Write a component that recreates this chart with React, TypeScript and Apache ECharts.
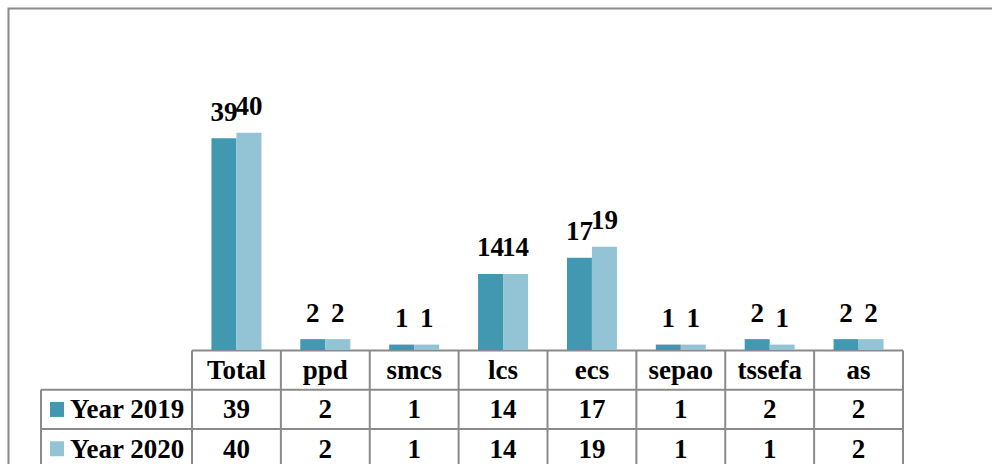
import React, { useEffect, useRef } from "react";
import * as echarts from "echarts";

const categories = ["Total", "ppd", "smcs", "lcs", "ecs", "sepao", "tssefa", "as"];
const seriesNames = ["Year 2019", "Year 2020"];
const values2019 = [39, 2, 1, 14, 17, 1, 2, 2];
const values2020 = [40, 2, 1, 14, 19, 1, 1, 2];

const COLORS = ["#4298B0", "#93C4D5"];
const FAMILY = "Liberation Serif";
const FS = 27;
const FONT = "bold 27px 'Liberation Serif', serif";
const LINE = "#8a8a8a";

export default function App() {
  const ref = useRef<HTMLDivElement>(null);
  useEffect(() => {
    document.body.style.margin = "0";
    if (!ref.current) return;
    const chart = echarts.init(ref.current, null, { renderer: "svg" });

    const W = 992;
    const gridLeft = 192;
    const gridRight = 89;
    const baseY = 350;
    const gridTop = 78.5;
    const gridW = W - gridLeft - gridRight;
    const n = categories.length;
    const colW = gridW / n;
    const rowH = 39.3;
    const legendLeft = 41;
    const rows = [baseY + 0.5, baseY + 0.5 + rowH, baseY + 0.5 + 2 * rowH, baseY + 0.5 + 3 * rowH];
    const allSeries = [values2019, values2020];

    const textStyle = (text: string, align: string) => ({
      text,
      fontFamily: FAMILY,
      fontWeight: "bold",
      fontSize: FS,
      font: FONT,
      fill: "#000",
      align,
      verticalAlign: "middle",
    });

    const graphics: any[] = [];
    graphics.push({
      type: "rect",
      shape: { x: 8.5, y: 8.5, width: 1100, height: 600 },
      style: { fill: "none", stroke: LINE, lineWidth: 2 },
      silent: true,
    });
    graphics.push({ type: "line", shape: { x1: gridLeft, y1: rows[0], x2: gridLeft + gridW, y2: rows[0] }, style: { stroke: LINE, lineWidth: 2 } });
    for (let r = 1; r < rows.length; r++) {
      graphics.push({ type: "line", shape: { x1: legendLeft, y1: rows[r], x2: gridLeft + gridW, y2: rows[r] }, style: { stroke: LINE, lineWidth: 2 } });
    }
    for (let c = 0; c <= n; c++) {
      const x = gridLeft + c * colW;
      graphics.push({ type: "line", shape: { x1: x, y1: rows[0], x2: x, y2: rows[3] }, style: { stroke: LINE, lineWidth: 2 } });
    }
    graphics.push({ type: "line", shape: { x1: legendLeft, y1: rows[1], x2: legendLeft, y2: rows[3] }, style: { stroke: LINE, lineWidth: 2 } });

    categories.forEach((cat, i) => {
      graphics.push({
        type: "text",
        x: gridLeft + (i + 0.5) * colW,
        y: (rows[0] + rows[1]) / 2,
        style: textStyle(cat, "center"),
      });
    });
    allSeries.forEach((vals, s) => {
      const cy = (rows[s + 1] + rows[s + 2]) / 2;
      graphics.push({
        type: "rect",
        shape: { x: 50, y: cy - 7.5, width: 14, height: 15 },
        style: { fill: COLORS[s] },
      });
      graphics.push({
        type: "text",
        x: 70,
        y: cy,
        style: textStyle(seriesNames[s], "left"),
      });
      vals.forEach((v, i) => {
        graphics.push({
          type: "text",
          x: gridLeft + (i + 0.5) * colW,
          y: cy,
          style: textStyle(String(v), "center"),
        });
      });
    });

    chart.setOption({
      animation: false,
      backgroundColor: "#ffffff",
      grid: { left: gridLeft, right: gridRight, top: gridTop, bottom: 464 - baseY },
      xAxis: {
        type: "category",
        data: categories,
        axisLine: { show: false },
        axisTick: { show: false },
        axisLabel: { show: false },
      },
      yAxis: {
        type: "value",
        min: 0,
        max: 50,
        show: false,
        splitLine: { show: false },
      },
      series: allSeries.map((vals, s) => ({
        type: "bar",
        name: seriesNames[s],
        data: vals,
        barWidth: 25,
        barGap: "0%",
        itemStyle: { color: COLORS[s] },
        label: {
          show: true,
          position: "top",
          distance: 13,
          color: "#000",
          fontFamily: FAMILY,
          fontWeight: "bold",
          fontSize: FS,
        },
      })),
      graphic: graphics,
    });
    return () => chart.dispose();
  }, []);
  return <div ref={ref} style={{ width: 992, height: 464 }} />;
}
